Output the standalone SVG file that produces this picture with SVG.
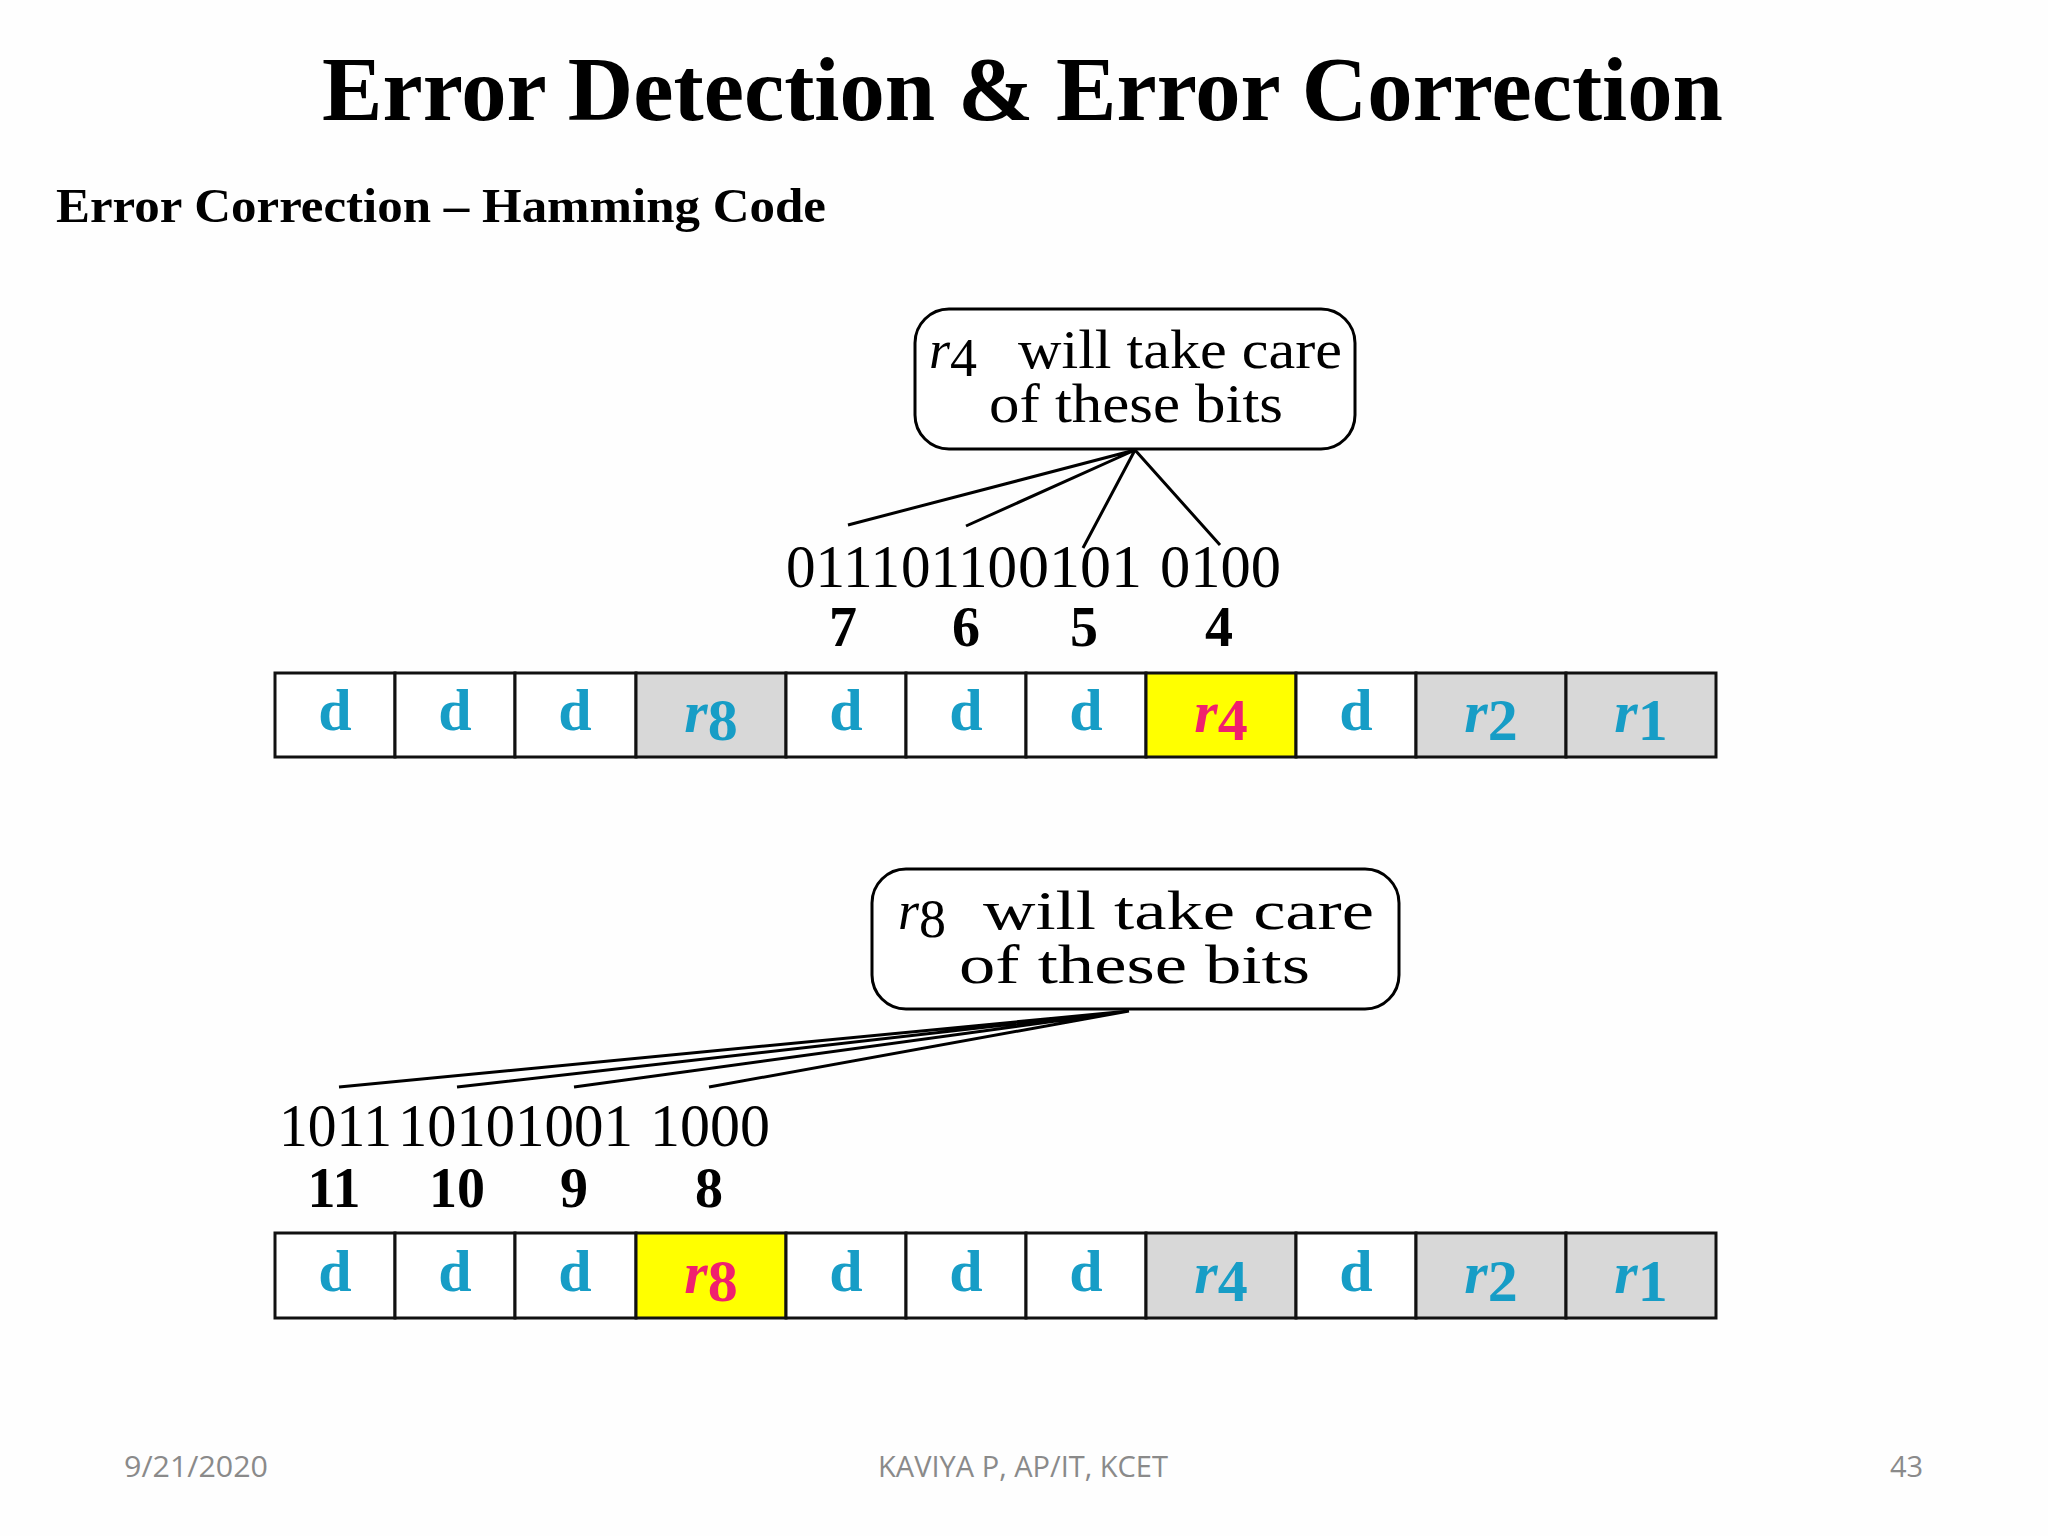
<svg xmlns="http://www.w3.org/2000/svg" width="2048" height="1536" viewBox="0 0 2048 1536">
<style>
.t{font-family:"Liberation Serif","Times New Roman",serif;fill:#000}
.bits{font-family:"Liberation Serif",serif;font-size:62px;fill:#000}
.num{font-family:"Liberation Serif",serif;font-size:56px;font-weight:bold;fill:#000;text-anchor:middle}
.cell{stroke:#111;stroke-width:3}
.w{fill:#fff}.g{fill:#d8d8d8}.y{fill:#ffff00}
.lab{font-family:"Liberation Serif",serif;font-size:60px;font-weight:bold;fill:#179dc6;text-anchor:middle}
.pk{fill:#f0206e}
.ft{font-family:"Open Sans","Liberation Sans",sans-serif;font-size:29px;fill:#8a8a8a}
.ln{stroke:#000;stroke-width:3;fill:none}
.cl{font-family:"Liberation Serif",serif;font-size:54px;fill:#000}
</style>
<rect width="2048" height="1536" fill="#fefefe"/>
<text class="t" x="322" y="120" font-size="90" font-weight="bold" textLength="1401" lengthAdjust="spacingAndGlyphs">Error Detection &amp; Error Correction</text>
<text class="t" x="56" y="222" font-size="48" font-weight="bold" textLength="770" lengthAdjust="spacingAndGlyphs">Error Correction – Hamming Code</text>

<g id="callout1">
<rect x="915" y="309" width="440" height="140" rx="34" fill="#fff" stroke="#000" stroke-width="3"/>
<text class="cl" x="929" y="368"><tspan font-style="italic">r</tspan><tspan dy="8">4</tspan><tspan dy="-8" x="1018" textLength="324" lengthAdjust="spacingAndGlyphs">will take care</tspan></text>
<text class="cl" x="989" y="422" textLength="294" lengthAdjust="spacingAndGlyphs">of these bits</text>
</g>
<g id="bits1">
<text class="bits" x="786" y="587" textLength="114" lengthAdjust="spacingAndGlyphs">0111</text>
<text class="bits" x="901" y="587" textLength="116" lengthAdjust="spacingAndGlyphs">0110</text>
<text class="bits" x="1018" y="587" textLength="124" lengthAdjust="spacingAndGlyphs">0101</text>
<text class="bits" x="1160" y="587" textLength="121" lengthAdjust="spacingAndGlyphs">0100</text>
<text class="num" x="843" y="646">7</text>
<text class="num" x="966" y="646">6</text>
<text class="num" x="1084" y="646">5</text>
<text class="num" x="1219" y="646">4</text>
</g>
<g id="table1">
<rect class="cell w" x="275" y="673" width="120" height="84"/>
<rect class="cell w" x="395" y="673" width="120" height="84"/>
<rect class="cell w" x="515" y="673" width="121" height="84"/>
<rect class="cell g" x="636" y="673" width="150" height="84"/>
<rect class="cell w" x="786" y="673" width="120" height="84"/>
<rect class="cell w" x="906" y="673" width="120" height="84"/>
<rect class="cell w" x="1026" y="673" width="120" height="84"/>
<rect class="cell y" x="1146" y="673" width="150" height="84"/>
<rect class="cell w" x="1296" y="673" width="120" height="84"/>
<rect class="cell g" x="1416" y="673" width="150" height="84"/>
<rect class="cell g" x="1566" y="673" width="150" height="84"/>
<text class="lab" x="335" y="730">d</text>
<text class="lab" x="455" y="730">d</text>
<text class="lab" x="575" y="730">d</text>
<text class="lab" x="711" y="732"><tspan font-style="italic">r</tspan><tspan dy="8">8</tspan></text>
<text class="lab" x="846" y="730">d</text>
<text class="lab" x="966" y="730">d</text>
<text class="lab" x="1086" y="730">d</text>
<text class="lab pk" x="1221" y="732"><tspan font-style="italic">r</tspan><tspan dy="8">4</tspan></text>
<text class="lab" x="1356" y="730">d</text>
<text class="lab" x="1491" y="732"><tspan font-style="italic">r</tspan><tspan dy="8">2</tspan></text>
<text class="lab" x="1641" y="732"><tspan font-style="italic">r</tspan><tspan dy="8">1</tspan></text>
</g>

<g id="callout2">
<rect x="872" y="869" width="527" height="140" rx="34" fill="#fff" stroke="#000" stroke-width="3"/>
<text class="cl" x="898" y="929"><tspan font-style="italic">r</tspan><tspan dy="8">8</tspan><tspan dy="-8" x="983" textLength="391" lengthAdjust="spacingAndGlyphs">will take care</tspan></text>
<text class="cl" x="959" y="983" textLength="351" lengthAdjust="spacingAndGlyphs">of these bits</text>
</g>
<g id="bits2">
<text class="bits" x="279" y="1146" textLength="113" lengthAdjust="spacingAndGlyphs">1011</text>
<text class="bits" x="398" y="1146" textLength="117" lengthAdjust="spacingAndGlyphs">1010</text>
<text class="bits" x="515" y="1146" textLength="118" lengthAdjust="spacingAndGlyphs">1001</text>
<text class="bits" x="650" y="1146" textLength="120" lengthAdjust="spacingAndGlyphs">1000</text>
<text class="num" x="334" y="1207">11</text>
<text class="num" x="457" y="1207">10</text>
<text class="num" x="574" y="1207">9</text>
<text class="num" x="709" y="1207">8</text>
</g>
<g id="table2">
<rect class="cell w" x="275" y="1233" width="120" height="85"/>
<rect class="cell w" x="395" y="1233" width="120" height="85"/>
<rect class="cell w" x="515" y="1233" width="121" height="85"/>
<rect class="cell y" x="636" y="1233" width="150" height="85"/>
<rect class="cell w" x="786" y="1233" width="120" height="85"/>
<rect class="cell w" x="906" y="1233" width="120" height="85"/>
<rect class="cell w" x="1026" y="1233" width="120" height="85"/>
<rect class="cell g" x="1146" y="1233" width="150" height="85"/>
<rect class="cell w" x="1296" y="1233" width="120" height="85"/>
<rect class="cell g" x="1416" y="1233" width="150" height="85"/>
<rect class="cell g" x="1566" y="1233" width="150" height="85"/>
<text class="lab" x="335" y="1291">d</text>
<text class="lab" x="455" y="1291">d</text>
<text class="lab" x="575" y="1291">d</text>
<text class="lab pk" x="711" y="1293"><tspan font-style="italic">r</tspan><tspan dy="8">8</tspan></text>
<text class="lab" x="846" y="1291">d</text>
<text class="lab" x="966" y="1291">d</text>
<text class="lab" x="1086" y="1291">d</text>
<text class="lab" x="1221" y="1293"><tspan font-style="italic">r</tspan><tspan dy="8">4</tspan></text>
<text class="lab" x="1356" y="1291">d</text>
<text class="lab" x="1491" y="1293"><tspan font-style="italic">r</tspan><tspan dy="8">2</tspan></text>
<text class="lab" x="1641" y="1293"><tspan font-style="italic">r</tspan><tspan dy="8">1</tspan></text>
</g>

<g id="connectors">
<path class="ln" d="M1135 450 L848 525 M1135 450 L966 526 M1135 450 L1083 548 M1135 450 L1220 545"/>
<path class="ln" d="M1129 1011 L339 1087 M1129 1011 L457 1087 M1129 1011 L574 1087 M1129 1011 L709 1087"/>
</g>

<text class="ft" x="124" y="1477" textLength="144" lengthAdjust="spacingAndGlyphs">9/21/2020</text>
<text class="ft" x="878" y="1477" textLength="290" lengthAdjust="spacingAndGlyphs">KAVIYA P, AP/IT, KCET</text>
<text class="ft" x="1890" y="1477">43</text>
</svg>
